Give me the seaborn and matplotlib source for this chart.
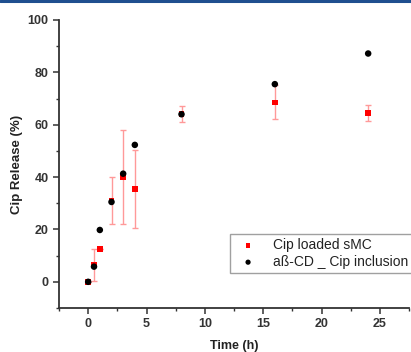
import matplotlib
matplotlib.use("Agg")
import matplotlib.pyplot as plt
from matplotlib.lines import Line2D
from matplotlib.ticker import MultipleLocator
import seaborn as sns
import pandas as pd

time_smc = [0, 0.5, 1, 2, 3, 4, 8, 16, 24]
release_smc = [0, 6.5, 12.5, 31, 40, 35.5, 64, 68.5, 64.5]
err_smc = [0, 6, 0, 9, 18, 15, 3, 6.5, 3]

time_cd = [0, 0.5, 1, 2, 3, 4, 8, 16, 24]
release_cd = [0, 5.8, 19.8, 30.5, 41.3, 52.3, 64, 75.5, 87.2]

label_smc = "Cip loaded sMC"
label_cd = "aß-CD _ Cip inclusion"

sns.set_style("ticks")
plt.rcParams['font.family'] = ['Liberation Sans', 'DejaVu Sans']

fig = plt.figure(figsize=(4.11, 3.52), dpi=100)
ax = fig.add_axes([59/411, 1-308/352, 350/411, 288/352])

df_smc = pd.DataFrame({"t": time_smc, "r": release_smc, "e": err_smc})
df_cd = pd.DataFrame({"t": time_cd, "r": release_cd})

ax.errorbar(df_smc["t"], df_smc["r"], yerr=df_smc["e"], fmt='none',
            ecolor=(1, 0.6, 0.6), elinewidth=1.0, capsize=2.5, capthick=1.0, zorder=2)
sns.scatterplot(data=df_smc, x="t", y="r", marker='s', color='#ff0000', s=17,
                edgecolor='none', ax=ax, zorder=3, label=label_smc)
sns.scatterplot(data=df_cd, x="t", y="r", marker='o', color='black', s=22,
                edgecolor='none', ax=ax, zorder=4, label=label_cd)

ax.set_xlim(-2.5, 27.5)
ax.set_ylim(-10, 100)
ax.xaxis.set_major_locator(MultipleLocator(5))
ax.xaxis.set_minor_locator(MultipleLocator(2.5))
ax.yaxis.set_major_locator(MultipleLocator(20))
ax.yaxis.set_minor_locator(MultipleLocator(10))
ax.set_yticks([0, 20, 40, 60, 80, 100])

for s in ['top', 'right']:
    ax.spines[s].set_visible(False)
for s in ['left', 'bottom']:
    ax.spines[s].set_linewidth(1.3)
    ax.spines[s].set_color('#333333')

ax.tick_params(which='major', length=4, width=1.1, color='#333333', labelsize=9,
               labelcolor='#333333', direction='out')
ax.tick_params(which='minor', length=2.5, width=1.0, color='#333333', direction='out')
for lab in ax.get_xticklabels() + ax.get_yticklabels():
    lab.set_fontweight('bold')

ax.set_xlabel("Time (h)", fontsize=9, fontweight='bold', color='#222222', labelpad=7)
ax.set_ylabel("Cip Release (%)", fontsize=9.5, fontweight='bold', color='#222222', labelpad=3)

leg = ax.legend(loc='lower left', bbox_to_anchor=(230/411, 79/352),
                bbox_transform=fig.transFigure, fontsize=10, frameon=True,
                fancybox=False, edgecolor='#888888', borderpad=0.3, labelspacing=0.2,
                handletextpad=0.8, markerscale=0.8, borderaxespad=0)
leg.get_frame().set_linewidth(1.0)
for t in leg.get_texts():
    t.set_color('#222222')

fig.add_artist(Line2D([0, 1], [1 - 1/352, 1 - 1/352], transform=fig.transFigure,
                      color='#1f4f8f', linewidth=2.2))

fig.savefig("out.png", dpi=100)
